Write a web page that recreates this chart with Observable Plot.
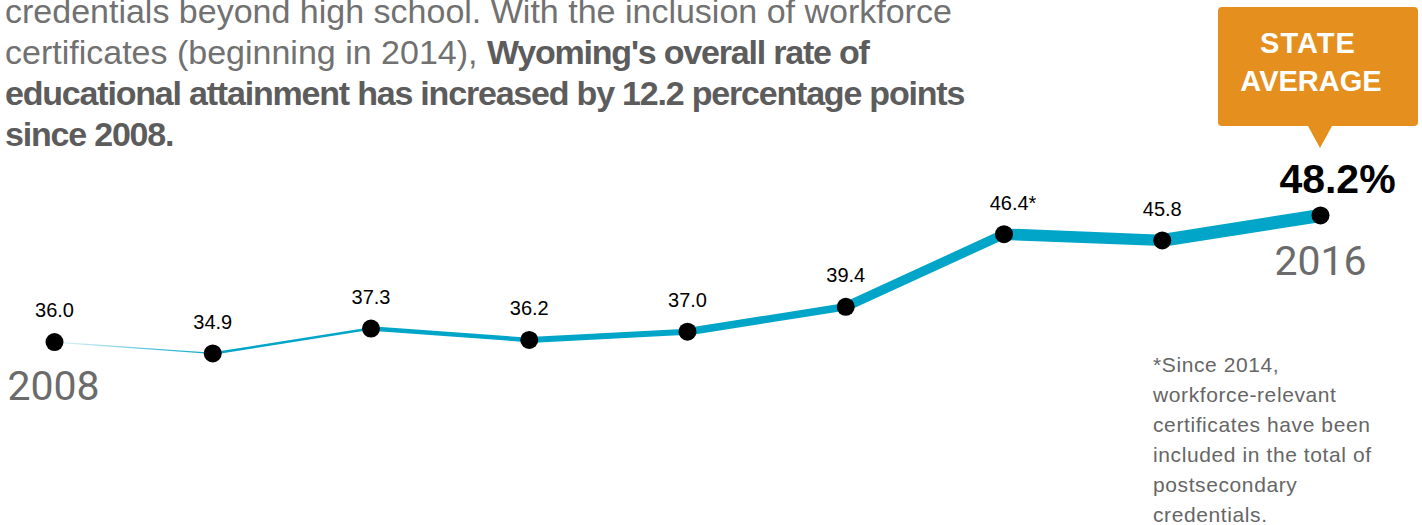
<!DOCTYPE html>
<html>
<head>
<meta charset="utf-8">
<script src="https://cdn.jsdelivr.net/npm/d3@7"></script>
<script src="https://cdn.jsdelivr.net/npm/@observablehq/plot@0.6"></script>
<style>
  html, body { margin: 0; padding: 0; background: #fff; }
  #wrap { position: relative; width: 1422px; height: 525px; overflow: hidden; }
  #chart { position: absolute; left: 0; top: 0; }
  #intro {
    position: absolute; left: 5px; top: -9px; width: 975px;
    font-family: "Liberation Sans", Arial, sans-serif;
    font-size: 34px; line-height: 41px; color: #717171;
  }
  #intro b { font-weight: 700; color: #5c5c5c; letter-spacing: -1.2px; }
  #callout {
    position: absolute; left: 1218px; top: 7px; width: 200px; height: 119px;
    background: #e48f1e; border-radius: 4px; color: #fff;
    font-family: "Liberation Sans", Arial, sans-serif; font-weight: 700;
    font-size: 29px; line-height: 38px; text-align: center;
    box-sizing: border-box; padding-top: 17px; padding-right: 14px;
  }
  #callout .s1 { letter-spacing: 1px; padding-right: 6px; }
  #callout::after {
    content: ""; position: absolute; left: 90px; top: 119px;
    border-left: 12px solid transparent; border-right: 12px solid transparent;
    border-top: 22px solid #e48f1e;
  }
  #note {
    position: absolute; left: 1153px; top: 350px; width: 265px;
    font-family: "Liberation Sans", Arial, sans-serif; font-size: 21px;
    line-height: 30px; color: #666; letter-spacing: 0.6px; white-space: nowrap;
  }
</style>
</head>
<body>
<div id="wrap">
  <div id="chart"></div>
  <div id="intro">credentials beyond high school. With the inclusion of workforce certificates (beginning in 2014), <b>Wyoming's overall rate of educational attainment has increased by 12.2 percentage points since 2008.</b></div>
  <div id="callout"><span class="s1">STATE</span><br>AVERAGE</div>
  <div id="note">*Since 2014,<br>workforce-relevant<br>certificates have been<br>included in the total of<br>postsecondary<br>credentials.</div>
</div>
<script>
const years = [2008, 2009, 2010, 2011, 2012, 2013, 2014, 2015, 2016];
const values = [36.0, 34.9, 37.3, 36.2, 37.0, 39.4, 46.4, 45.8, 48.2];
const valueLabels = ["36.0", "34.9", "37.3", "36.2", "37.0", "39.4", "46.4*", "45.8", "48.2%"];

const points = years.map((year, i) => ({year, value: values[i], label: valueLabels[i]}));
const segments = points.slice(1).map((p, i) => ({
  x1: points[i].year, y1: points[i].value, x2: p.year, y2: p.value, idx: i
}));
const widthFor = i => [1.2, 2.5, 4.5, 6, 7.5, 9.5, 11.5, 13][i];

const blue = "#00a5c8";
const last = points[points.length - 1];
const first = points[0];
const plain = points.slice(0, -1).filter(d => !d.label.endsWith("*"));
const starred = points.filter(d => d.label.endsWith("*"));
const labelFont = "Liberation Sans, Arial, sans-serif";

const chart = Plot.plot({
  width: 1422,
  height: 525,
  margin: 0,
  x: {domain: [2008, 2016], range: [54, 1320], axis: null},
  y: {domain: [30, 50], range: [403.8, 196.3], axis: null},
  marks: [
    Plot.link(segments, {
      x1: "x1", y1: "y1", x2: "x2", y2: "y2",
      stroke: d => d.idx === 0 ? "url(#fadeGrad)" : blue,
      strokeWidth: d => widthFor(d.idx),
      strokeLinecap: "round"
    }),
    Plot.dot(points, {x: "year", y: "value", r: 9, fill: "#000"}),
    Plot.text(plain, {
      x: "year", y: "value", text: "label", dy: -31,
      fontSize: 20, fill: "#000", fontFamily: labelFont
    }),
    Plot.text(starred, {
      x: "year", y: "value", text: "label", dy: -31, dx: 9,
      fontSize: 20, fill: "#000", fontFamily: labelFont
    }),
    Plot.text([last], {
      x: "year", y: "value", text: "label", dy: -36, dx: 17,
      fontSize: 41, fontWeight: "bold", fill: "#000", fontFamily: labelFont
    }),
    Plot.text([last], {
      x: "year", y: "value", text: d => String(d.year), dy: 46,
      fontSize: 41, fill: "#6b6b6b", fontFamily: "Roboto, sans-serif"
    }),
    Plot.text([first], {
      x: "year", y: "value", text: d => String(d.year), dy: 45, dx: -1,
      fontSize: 41, fill: "#6b6b6b", fontFamily: "Roboto, sans-serif"
    })
  ]
});

// gradient for the first, fading segment
const ns = "http://www.w3.org/2000/svg";
const defs = document.createElementNS(ns, "defs");
const grad = document.createElementNS(ns, "linearGradient");
grad.setAttribute("id", "fadeGrad");
grad.setAttribute("x1", "0"); grad.setAttribute("x2", "1");
grad.setAttribute("y1", "0"); grad.setAttribute("y2", "0");
[["0%", "#e6f6fa"], ["100%", blue]].forEach(([o, c]) => {
  const s = document.createElementNS(ns, "stop");
  s.setAttribute("offset", o); s.setAttribute("stop-color", c);
  grad.appendChild(s);
});
defs.appendChild(grad);
chart.insertBefore(defs, chart.firstChild);

document.getElementById("chart").appendChild(chart);
</script>
</body>
</html>
